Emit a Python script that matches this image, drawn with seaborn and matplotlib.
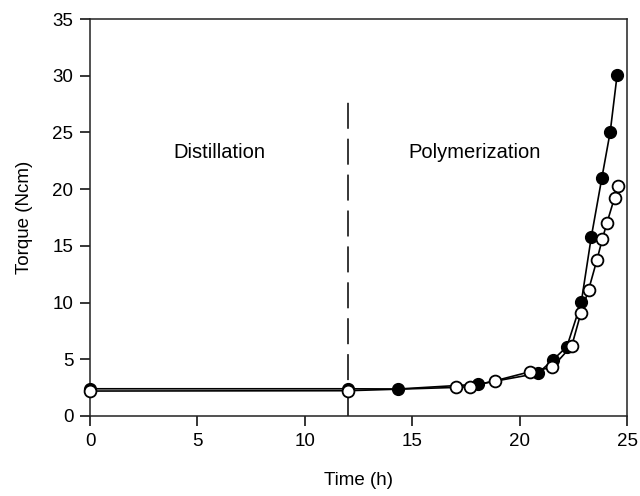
import matplotlib
matplotlib.use("Agg")
import matplotlib.pyplot as plt
import seaborn as sns
import pandas as pd

# Data
time_filled = [0, 12, 14.36, 18.07, 20.85, 21.55, 22.2, 22.87, 23.34, 23.83, 24.22, 24.54]
torque_filled = [2.4, 2.4, 2.38, 2.8, 3.76, 4.94, 6.11, 10.02, 15.81, 21.0, 25.07, 30.07]
time_open = [0, 12, 17.04, 17.7, 18.85, 20.48, 21.52, 22.43, 22.85, 23.21, 23.6, 23.85, 24.07, 24.42, 24.56]
torque_open = [2.2, 2.23, 2.52, 2.59, 3.1, 3.9, 4.29, 6.2, 9.05, 11.11, 13.76, 15.58, 17.05, 19.25, 20.28]
phase_boundary = 12
dash_top = 27.7
phase_labels = ["Distillation", "Polymerization"]
phase_label_x = [6.0, 17.9]
phase_label_y = 23.2
x_ticks = [0, 5, 10, 15, 20, 25]
y_ticks = [0, 5, 10, 15, 20, 25, 30, 35]

sns.set_style("ticks")
plt.rcParams['font.family'] = ['Liberation Sans', 'DejaVu Sans']
plt.rcParams['text.color'] = 'black'
plt.rcParams['axes.labelcolor'] = 'black'
plt.rcParams['xtick.color'] = 'black'
plt.rcParams['ytick.color'] = 'black'

fig = plt.figure(figsize=(6.4, 4.96), dpi=100)
ax = fig.add_axes([90/640, 80/496, 537/640, 397/496])

df_f = pd.DataFrame({"t": time_filled, "q": torque_filled})
df_o = pd.DataFrame({"t": time_open, "q": torque_open})

ax.vlines(phase_boundary, 0, dash_top, colors="black", linewidth=1.1,
          linestyles=(0, (17, 6.5)), zorder=1)

sns.lineplot(data=df_f, x="t", y="q", ax=ax, color="black", lw=1.2,
             marker="o", markersize=8.5, markerfacecolor="black",
             markeredgecolor="black", markeredgewidth=1.0, sort=False, zorder=3)
sns.lineplot(data=df_o, x="t", y="q", ax=ax, color="black", lw=1.2,
             marker="o", markersize=8.5, markerfacecolor="white",
             markeredgecolor="black", markeredgewidth=1.3, sort=False, zorder=4)

for lab, lx in zip(phase_labels, phase_label_x):
    ax.text(lx, phase_label_y, lab, ha="center", va="center", fontsize=14.5, color="black")

ax.set_xlim(0, 25)
ax.set_ylim(0, 35)
ax.set_xticks(x_ticks)
ax.set_yticks(y_ticks)
ax.tick_params(direction="out", length=7, width=1.1, labelsize=13.5, colors="black",
               top=False, right=False, pad=5)
ax.set_xlabel("Time (h)", fontsize=13.5, labelpad=16)
ax.set_ylabel("Torque (Ncm)", fontsize=13.5, labelpad=14)
for s in ax.spines.values():
    s.set_visible(True)
    s.set_linewidth(1.1)
    s.set_color("#222222")
for l in ax.lines:
    l.set_clip_on(False)

fig.savefig("out.png", dpi=100)
